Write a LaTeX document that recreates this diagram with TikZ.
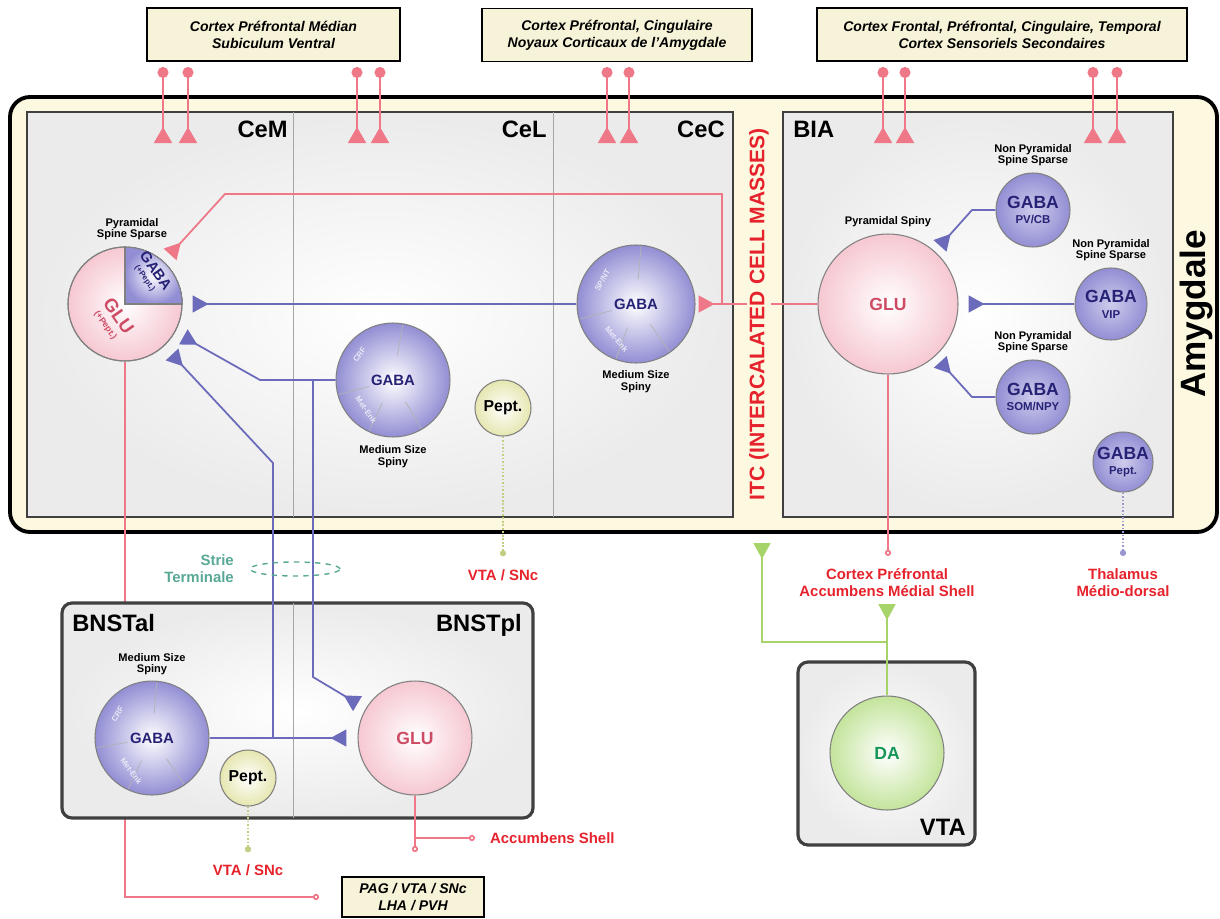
\documentclass[tikz,border=0pt]{standalone}
\usepackage{fontspec}
\setmainfont{Liberation Sans}
\usepackage{tikz}
\usetikzlibrary{positioning,calc,arrows.meta}
\definecolor{amycream}{RGB}{253,249,224}
\definecolor{srcbeige}{RGB}{246,243,216}
\definecolor{glupink}{RGB}{238,120,136}
\definecolor{glufill}{RGB}{246,200,210}
\definecolor{glutext}{RGB}{205,75,100}
\definecolor{gabablue}{RGB}{108,106,186}
\definecolor{gabafill}{RGB}{146,142,212}
\definecolor{gabatext}{RGB}{38,34,118}
\definecolor{dagreen}{RGB}{166,212,104}
\definecolor{dafill}{RGB}{196,228,156}
\definecolor{datext}{RGB}{22,150,88}
\definecolor{peptfill}{RGB}{230,230,176}
\definecolor{peptline}{RGB}{196,206,130}
\definecolor{outred}{RGB}{230,34,44}
\definecolor{strieteal}{RGB}{88,168,150}

\begin{document}
\begin{tikzpicture}[x=0.02cm,y=-0.02cm,
    panel/.style={draw=black!75,line width=1.2pt,inner color=white,outer color=black!8},
    divider/.style={draw=black!35,line width=0.5pt},
    areaname/.style={font=\bfseries\fontsize{13.5}{15}\selectfont,inner sep=0pt},
    srcbox/.style={draw,line width=1.1pt,fill=srcbeige,align=center,inner sep=2pt,
        font=\bfseries\itshape\fontsize{8}{9.6}\selectfont},
    neuron/.style={circle,draw=black!50,line width=0.6pt,inner sep=0pt,align=center},
    gabaname/.style={text=gabatext,inner sep=0pt,font=\bfseries\fontsize{8.5}{9}\selectfont},
    gabacell/.style={neuron,minimum size=#1,inner color=white,outer color=gabafill},
    gabasmall/.style={neuron,minimum size=#1,inner color=gabafill!45,outer color=gabafill,
        text=gabatext,font=\bfseries\fontsize{10}{9}\selectfont},
    glucell/.style={neuron,minimum size=#1,inner color=white,outer color=glufill,
        text=glutext,font=\bfseries\fontsize{10}{11}\selectfont},
    dacell/.style={neuron,minimum size=#1,inner color=white,outer color=dafill,
        text=datext,font=\bfseries\fontsize{10}{11}\selectfont},
    peptcell/.style={neuron,minimum size=1.12cm,inner color=white,outer color=peptfill,
        font=\bfseries\fontsize{9}{10}\selectfont},
    cellnote/.style={align=center,inner sep=0pt,font=\bfseries\fontsize{6.3}{6.6}\selectfont},
    seglabel/.style={text=white!80!gabafill,inner sep=0pt,font=\bfseries\fontsize{4.5}{5}\selectfont},
    segline/.style={draw=black!30,line width=0.4pt},
    outlabel/.style={text=outred,align=center,inner sep=1pt,font=\bfseries\fontsize{8.5}{9.6}\selectfont},
    glusyn/.style={draw=glupink,line width=1pt,-{Triangle[reversed,length=3.2mm,width=3.4mm]}},
    gabasyn/.style={draw=gabablue,line width=1pt,-{Triangle[reversed,length=3.2mm,width=3.4mm]}},
    dasyn/.style={draw=dagreen,line width=1pt,-{Triangle[reversed,length=3.2mm,width=3.4mm]}},
    gluout/.style={draw=glupink,line width=1pt,-{Circle[open,length=3.5pt,width=3.5pt]}},
    peptout/.style={draw=#1,line width=1pt,densely dotted,-{Circle[length=3.5pt,width=3.5pt]}}]
    \useasboundingbox (0,0) rectangle (1220,919);

    % Cortical inputs
    \node[srcbox,minimum width=5.06cm,minimum height=1.06cm] (mpfc) at (273.5,34.5)
        {Cortex Préfrontal Médian\\Subiculum Ventral};
    \node[srcbox,minimum width=5.4cm,minimum height=1.06cm] (cing) at (617,35)
        {Cortex Préfrontal, Cingulaire\\Noyaux Corticaux de l'Amygdale};
    \node[srcbox,minimum width=7.4cm,minimum height=1.06cm] (sens) at (1002,34.5)
        {Cortex Frontal, Préfrontal, Cingulaire, Temporal\\Cortex Sensoriels Secondaires};

    % Amygdala frame
    \draw[line width=2.2pt,fill=amycream,rounded corners=0.4cm] (10,97) rectangle (1217,532);
    \draw[panel] (27,112) rectangle (733,517);
    \draw[panel] (783,112) rectangle (1173,517);
    \draw[divider] (293,112) -- (293,517);
    \draw[divider] (553,112) -- (553,517);
    \node[areaname,anchor=north east] at (288,121) {CeM};
    \node[areaname,anchor=north east] at (547,121) {CeL};
    \node[areaname,anchor=north east] at (725,121) {CeC};
    \node[areaname,anchor=north west] at (793,121) {BIA};
    \node[rotate=90,font=\bfseries\fontsize{20}{22}\selectfont] (amy) at (1196,314) {Amygdale};

    % Cortical synapses
    \foreach \x in {163,188,357,380,607,629,883,905,1093,1117}
        \draw[glupink,line width=1pt,{Circle[length=2.2mm]}-{Triangle[reversed,length=3.2mm,width=3.6mm]}]
            (\x,67) -- (\x,143);

    % CeM
    \node[glucell=2.28cm] (cem) at (125,304) {};
    \fill[inner color=white,outer color=gabafill] (cem.center) -- (cem.east)
        arc[start angle=0,end angle=90,radius=1.14cm] -- cycle;
    \draw[black!50,line width=0.6pt] (cem.north) -- (cem.center) -- (cem.east);
    \draw[black!50,line width=0.6pt] (cem.center) circle[radius=1.14cm];
    \node[rotate=-55,text=gabatext,align=center,inner sep=0pt,font=\bfseries\fontsize{8.5}{6}\selectfont]
        at (151,274) {GABA\\{\fontsize{4.5}{5}\selectfont (+Pept.)}};
    \node[rotate=-55,text=glutext,align=center,inner sep=0pt,font=\bfseries\fontsize{10.5}{7}\selectfont]
        at (113,320) {GLU\\{\fontsize{5}{5}\selectfont (+Pept.)}};
    \node[cellnote,above=0.12cm of cem,xshift=0.14cm] {Pyramidal\\Spine Sparse};

    % CeL
    \node[gabacell=2.28cm,label={[gabaname]center:GABA}] (cel) at (393,380) {};
    \foreach \a in {80,195,245,300}
        \draw[segline] ([shift={(\a:0.5cm)}]cel.center) -- ([shift={(\a:1.12cm)}]cel.center);
    \node[seglabel,rotate=55] at ([shift={(143:0.84cm)}]cel.center) {CRF};
    \node[seglabel,rotate=-55] at ([shift={(228:0.8cm)}]cel.center) {Met-Enk};
    \node[cellnote,below=0.16cm of cel] {Medium Size\\Spiny};
    \node[peptcell] (peptcel) at (503,408) {Pept.};

    % CeC
    \node[gabacell=2.36cm,label={[gabaname]center:GABA}] (cec) at (636,304) {};
    \foreach \a in {85,195,250,305}
        \draw[segline] ([shift={(\a:0.5cm)}]cec.center) -- ([shift={(\a:1.16cm)}]cec.center);
    \node[seglabel,rotate=60] at ([shift={(145:0.82cm)}]cec.center) {SP/NT};
    \node[seglabel,rotate=-50] at ([shift={(241:0.8cm)}]cec.center) {Met-Enk};
    \node[cellnote,below=0.14cm of cec] {Medium Size\\Spiny};

    % BIA
    \node[glucell=2.8cm] (glubia) at (888,304) {GLU};
    \node[cellnote,above=0.12cm of glubia] {Pyramidal Spiny};
    \node[gabasmall=1.48cm] (pvcb) at (1033,210) {GABA\\{\fontsize{6.5}{7}\selectfont PV/CB}};
    \node[cellnote,above=0.12cm of pvcb] {Non Pyramidal\\Spine Sparse};
    \node[gabasmall=1.44cm] (vip) at (1111,304) {GABA\\{\fontsize{6.5}{7}\selectfont VIP}};
    \node[cellnote,above=0.12cm of vip] {Non Pyramidal\\Spine Sparse};
    \node[gabasmall=1.48cm] (som) at (1033,397) {GABA\\{\fontsize{6.5}{7}\selectfont SOM/NPY}};
    \node[cellnote,above=0.12cm of som] {Non Pyramidal\\Spine Sparse};
    \node[gabasmall=1.2cm] (gpept) at (1123,462) {GABA\\{\fontsize{6.5}{7}\selectfont Pept.}};

    % Targets
    \node[outlabel] (vtaA) at (503,575) {VTA / SNc};
    \node[outlabel] (vtaB) at (248,870) {VTA / SNc};
    \node[outlabel] (cpfc) at (887,583) {Cortex Préfrontal\\Accumbens Médial Shell};
    \node[outlabel] (thal) at (1123,583) {Thalamus\\Médio-dorsal};
    \node[outlabel,anchor=west] (acc) at (488,838) {Accumbens Shell};
    \node[srcbox,minimum width=2.84cm,minimum height=0.8cm] (pag) at (413,897) {PAG / VTA / SNc\\LHA / PVH};

    % CeM output runs behind BNST
    \draw[gluout] (cem.south) -- (cem.south |- pag.west) -- ([xshift=-0.44cm]pag.west);

    % BNST
    \draw[panel,rounded corners=0.2cm,line width=1.8pt] (62,603) rectangle (533,818);
    \draw[divider] (293,603) -- (293,818);
    \node[areaname,anchor=north west] at (72,614) {BNSTal};
    \node[areaname,anchor=north east] at (522,614) {BNSTpl};
    \node[gabacell=2.28cm,label={[gabaname]center:GABA}] (bnsta) at (152,738) {};
    \foreach \a in {85,190,245,305}
        \draw[segline] ([shift={(\a:0.5cm)}]bnsta.center) -- ([shift={(\a:1.12cm)}]bnsta.center);
    \node[seglabel,rotate=60] at ([shift={(145:0.84cm)}]bnsta.center) {CRF};
    \node[seglabel,rotate=-55] at ([shift={(238:0.78cm)}]bnsta.center) {Met-Enk};
    \node[cellnote,above=0.1cm of bnsta] {Medium Size\\Spiny};
    \node[peptcell] (peptbnst) at (248,778) {Pept.};
    \node[glucell=2.28cm] (glubnst) at (415,738) {GLU};

    % VTA
    \draw[panel,rounded corners=0.2cm,line width=1.8pt] (798,662) rectangle (975,845);
    \node[areaname,anchor=south east] at (966,836) {VTA};
    \node[dacell=2.28cm] (da) at (887,753) {DA};

    % Junctions
    \coordinate (celbend) at (260,380);
    \coordinate (celdown) at (313,677);
    \coordinate (bnstup) at (273,738);
    \coordinate (bnstbend) at (273,463);
    \coordinate (itcjoin) at (722,304);
    \coordinate (itctop) at (722,194);
    \coordinate (cemtop) at (225,194);
    \coordinate (pvbend) at (972,210);
    \coordinate (sombend) at (972,397);
    \coordinate (accjoin) at (415,838);
    \coordinate (dajoin) at (887,642);
    \coordinate (daleft) at (762,642);
    \coordinate (daitc) at (762,543);

    % GABA projections
    \draw[gabasyn] (cec.west) -- ([xshift=0.2cm]cem.east);
    \draw[gabasyn] (cel.west) -- (celbend) -- ($(cem.center)!1.34cm!(celbend)$);
    \draw[gabasyn] (cel.west) -- (cel.west -| celdown) -- (celdown)
        -- ($(glubnst.center)!1.34cm!(celdown)$);
    \draw[gabasyn] (bnsta.east) -- ([xshift=-0.22cm]glubnst.west);
    \draw[gabasyn] (bnstup) -- (bnstbend) -- ($(cem.center)!1.38cm!(bnstbend)$);
    \draw[gabasyn] (pvcb.west) -- (pvbend) -- ($(glubia.center)!1.56cm!(pvbend)$);
    \draw[gabasyn] (vip.west) -- ([xshift=0.2cm]glubia.east);
    \draw[gabasyn] (som.west) -- (sombend) -- ($(glubia.center)!1.56cm!(sombend)$);

    % GLU projections
    \draw[glusyn] (glubia.west) -- (itcjoin) -- (itctop) -- (cemtop)
        -- ($(cem.center)!1.34cm!(cemtop)$);
    \draw[glusyn] (itcjoin) -- ([xshift=0.06cm]cec.east);
    \draw[gluout] (glubnst.south) -- ([yshift=0.48cm]pag.north -| glubnst.south);
    \draw[gluout] (accjoin) -- ([xshift=-0.26cm]acc.west);
    \draw[gluout] (glubia.south) -- ([yshift=0.22cm]cpfc.north -| glubia.south);
    \draw[peptout=peptline] (peptcel.south) -- ([yshift=0.22cm]vtaA.north);
    \draw[peptout=peptline] (peptbnst.south) -- ([yshift=0.2cm]vtaB.north);
    \draw[peptout=gabablue!70] (gpept.south) -- ([yshift=0.22cm]thal.north);

    % DA projections
    \draw[dasyn] (da.north) -- ([yshift=-0.1cm]cpfc.south -| da.north);
    \draw[dasyn] (dajoin) -- (daleft) -- (daitc);

    % Stria terminalis
    \draw[strieteal,line width=0.8pt,dashed] (295,569) ellipse [x radius=0.9cm,y radius=0.14cm];
    \node[text=strieteal,align=right,anchor=east,font=\bfseries\fontsize{8.5}{9.5}\selectfont]
        (strie) at (240,569) {Strie\\Terminale};

    % ITC label
    \node[rotate=90,fill=amycream,inner sep=1.5pt,text=outred,font=\bfseries\fontsize{12}{13}\selectfont]
        (itc) at (759,314) {ITC (INTERCALATED CELL MASSES)};
\end{tikzpicture}
\end{document}
